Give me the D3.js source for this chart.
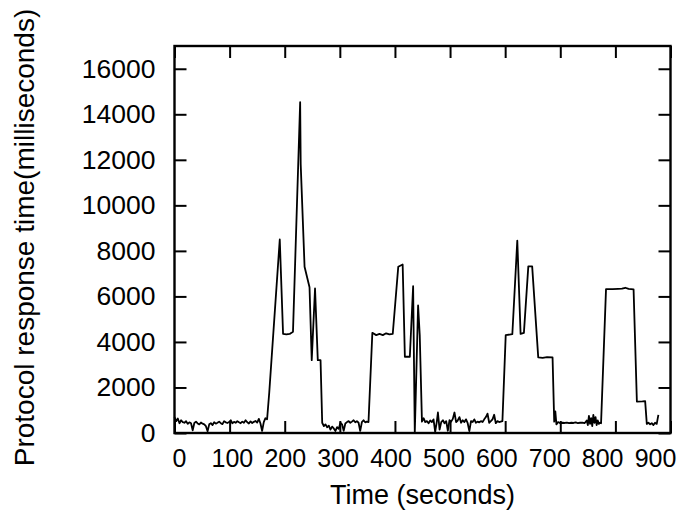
<!DOCTYPE html>
<html>
<head>
<meta charset="UTF-8">
<title>Protocol response time</title>
<style>
  body { margin: 0; background: #fff; }
  svg text { font-family: "Liberation Sans", Arial, sans-serif; fill: #000; }
</style>
</head>
<body>
<svg width="700" height="517"></svg>
<script src="https://cdn.jsdelivr.net/npm/d3@7"></script>
<script>
// time in seconds, response time in ms
const times = [
  0, 3, 6, 9, 12, 15, 18, 21, 24, 27, 30, 33, 36, 39, 42, 45, 48, 51, 54, 57,
  60, 63, 66, 69, 72, 75, 78, 81, 84, 87, 90, 93, 96, 99, 102, 105, 108, 111, 114, 117,
  120, 123, 126, 129, 132, 135, 138, 141, 144, 147, 150, 153, 156, 159, 162, 165, 168,
  172, 191, 197, 203, 209, 215, 228, 229, 236, 245, 249, 255, 260, 265,
  268, 271, 274, 277, 280, 283, 286, 289, 292, 295, 298, 301, 304, 307, 310, 313, 316, 319,
  322, 325, 328, 331, 334, 337, 340, 343, 346, 349, 352,
  359, 366, 372, 378, 384, 390, 396, 406, 414, 418, 427, 433, 436, 442, 445,
  449, 452, 455, 458, 461, 464, 467, 470, 473, 476, 478, 481, 484, 487, 490, 493, 496, 499,
  502, 505, 508, 511, 514, 517, 520, 523, 526, 529, 532, 535, 538, 541, 544, 547, 550, 553,
  556, 559, 562, 565, 568, 571, 574, 577, 580, 583, 586, 589, 592, 595,
  601, 613, 622, 628, 634, 642, 649, 660, 668, 676, 686,
  689, 691, 693, 696, 700, 704, 708, 712, 716, 720, 724, 728, 732, 736, 740, 744, 748, 750,
  752, 754, 756, 758, 760, 762, 764, 766, 768, 770, 772, 774,
  783, 795, 805, 812, 818, 824, 833, 839, 849, 854,
  857, 860, 863, 866, 869, 872, 875, 878
];
const responseMs = [
  700, 520, 640, 430, 560, 480, 450, 520, 400, 470, 430, 120, 440, 500, 420, 380, 460, 410, 380, 300,
  80, 380, 430, 350, 470, 410, 450, 500, 430, 390, 520, 470, 440, 480, 560, 430, 490, 450, 520, 470,
  430, 500, 450, 560, 470, 420, 510, 440, 490, 530, 460, 620, 420, 90, 480, 650, 600,
  1800, 8500, 4350, 4330, 4350, 4450, 14530, 11800, 7300, 6400, 3200, 6350, 3200, 3200,
  450, 300, 380, 250, 320, 150, 280, 200, 90, 260, 180, 450, 380, 100, 420, 480, 520, 450,
  500, 560, 470, 520, 450, 90, 480, 560, 470, 500, 480,
  4400, 4300, 4350, 4300, 4380, 4330, 4350, 7300, 7400, 3350, 3350, 6450, 0, 5600, 4300,
  500, 650, 480, 520, 430, 550, 480, 600, 50, 500, 900, 150, 480, 560, 430, 520, 100, 560,
  500, 620, 900, 480, 550, 700, 450, 560, 480, 600, 430, 80, 520, 480, 600, 450, 500, 470,
  520, 480, 600, 700, 850, 450, 520, 600, 800, 430, 520, 480, 500, 520,
  4300, 4340, 8450, 4350, 4400, 7320, 7320, 3320, 3300, 3330, 3320,
  500, 950, 380, 480, 430, 450, 440, 460, 430, 450, 440, 470, 430, 450, 460, 430, 550, 350,
  750, 400, 650, 300, 800, 450, 700, 350, 550, 400, 450, 430,
  6320, 6320, 6330, 6340, 6380, 6330, 6310, 1380, 1390, 1400,
  400, 450, 380, 430, 350, 450, 400, 800
];
const xTicks = [0, 100, 200, 300, 400, 500, 600, 700, 800, 900];
const yTicks = [0, 2000, 4000, 6000, 8000, 10000, 12000, 14000, 16000];

const svg = d3.select("svg"),
    margin = { top: 46, right: 29.5, bottom: 84, left: 174.5 },
    width = +svg.attr("width") - margin.left - margin.right,
    height = +svg.attr("height") - margin.top - margin.bottom,
    x = d3.scaleLinear().domain([0, 900]).range([0, width]),
    // tick labels in the source sit a little tighter than the ticks
    xLab = d3.scaleLinear().domain([0, 900]).range([4.5, 480.5]),
    y = d3.scaleLinear().domain([0, 17000]).range([height, 0]),
    g = svg.append("g")
        .attr("transform", `translate(${margin.left},${margin.top})`);

const data = times.map((t, i) => ({ t, v: responseMs[i] }));

// inward ticks on all four sides
g.append("g")
    .attr("transform", `translate(0,${height})`)
    .call(d3.axisBottom(x).tickValues(xTicks).tickSize(-12).tickFormat(""));
g.append("g")
    .call(d3.axisTop(x).tickValues(xTicks).tickSize(-12).tickFormat(""));
g.append("g")
    .attr("transform", `translate(${width},0)`)
    .call(d3.axisRight(y).tickValues(yTicks).tickSize(-12).tickFormat(""));
g.append("g")
    .attr("class", "axis-y")
    .call(d3.axisLeft(y).tickValues(yTicks).tickSize(-12).tickPadding(19).tickFormat(d3.format("d")));

g.append("g")
    .attr("class", "axis-x")
    .attr("transform", `translate(0,${height})`)
    .call(d3.axisBottom(xLab).tickValues(xTicks).tickSize(0).tickPadding(16));

g.selectAll(".tick line").attr("stroke", "#000").attr("stroke-width", 2);
g.selectAll(".domain").remove();
g.selectAll(".axis-x .tick text").style("font-size", "25px");
g.selectAll(".axis-y .tick text").style("font-size", "26.5px");

g.append("rect")
    .attr("width", width)
    .attr("height", height)
    .attr("fill", "none")
    .attr("stroke", "#000")
    .attr("stroke-width", 2.4);

g.append("path")
    .datum(data)
    .attr("fill", "none")
    .attr("stroke", "#000")
    .attr("stroke-width", 1.8)
    .attr("stroke-linejoin", "round")
    .attr("d", d3.line().x(d => x(d.t)).y(d => y(d.v)));

svg.append("text")
    .attr("x", margin.left + width / 2)
    .attr("y", 504)
    .attr("text-anchor", "middle")
    .style("font-size", "27px")
    .text("Time (seconds)");

svg.append("text")
    .attr("transform", "translate(34,237.5) rotate(-90)")
    .attr("text-anchor", "middle")
    .style("font-size", "28px")
    .text("Protocol response time(milliseconds)");
</script>
</body>
</html>
